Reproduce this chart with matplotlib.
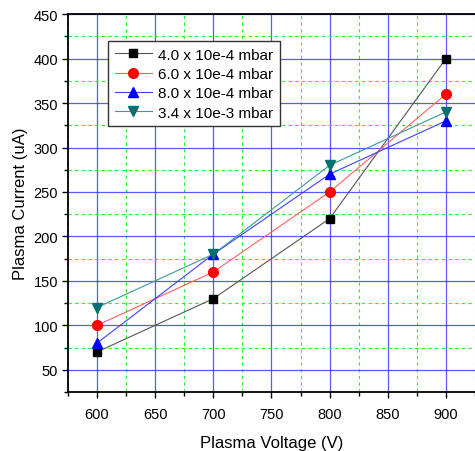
import matplotlib
matplotlib.use("Agg")
from matplotlib import pyplot as plt
from matplotlib.ticker import MultipleLocator

plt.rcParams['font.family'] = ['Liberation Sans', 'DejaVu Sans']

voltage = [600, 700, 800, 900]

# plasma current (uA) for each pressure
cur_4e4 = [70, 130, 220, 400]
cur_6e4 = [100, 160, 250, 360]
cur_8e4 = [80, 180, 270, 330]
cur_34e3 = [120, 180, 280, 340]

labels = ['4.0 x 10e-4 mbar', '6.0 x 10e-4 mbar', '8.0 x 10e-4 mbar', '3.4 x 10e-3 mbar']

fig = plt.figure(figsize=(4.75, 4.52), dpi=100)
ax = fig.add_axes([0.143, 0.1305, 0.857, 0.836])

ax.plot(voltage, cur_4e4, color='#555555', lw=0.8, marker='s', ms=6, mfc='black', mec='black', label=labels[0])
ax.plot(voltage, cur_6e4, color='#ff6060', lw=0.8, marker='o', ms=7, mfc='red', mec='red', label=labels[1])
ax.plot(voltage, cur_8e4, color='#4040ff', lw=0.8, marker='^', ms=7, mfc='blue', mec='blue', label=labels[2])
ax.plot(voltage, cur_34e3, color='#3a9a9a', lw=0.8, marker='v', ms=7, mfc='#007070', mec='#007070', label=labels[3])

ax.set_xlim(575, 925)
ax.set_ylim(25, 450)
ax.xaxis.set_major_locator(MultipleLocator(50))
ax.xaxis.set_minor_locator(MultipleLocator(25))
ax.yaxis.set_major_locator(MultipleLocator(50))
ax.yaxis.set_minor_locator(MultipleLocator(25))

ax.grid(which='major', color='#3030ff', lw=0.9, alpha=0.8)
ax.grid(which='minor', color='#30ee30', lw=0.8, ls=(0, (3, 3)))
ax.set_axisbelow(True)

ax.spines['right'].set_visible(False)
for s in ['left', 'bottom', 'top']:
    ax.spines[s].set_linewidth(1.3)
ax.tick_params(which='major', direction='out', length=4, width=1, labelsize=10.5)
ax.tick_params(axis='x', which='major', pad=7)
ax.tick_params(axis='y', which='major', pad=3)
ax.tick_params(which='minor', direction='out', length=3, width=1)
ax.tick_params(right=False, top=False)

ax.set_xlabel('Plasma Voltage (V)', fontsize=12, labelpad=10)
ax.set_ylabel('Plasma Current (uA)', fontsize=12, labelpad=4)

leg = ax.legend(loc='upper left', bbox_to_anchor=(0.08, 0.95), fontsize=11,
                frameon=True, fancybox=False, edgecolor='#333333', framealpha=1,
                handlelength=2.4, handletextpad=0.4, labelspacing=0.35, borderpad=0.45)
leg.get_frame().set_linewidth(1.0)

fig.savefig('out.png', dpi=100)
